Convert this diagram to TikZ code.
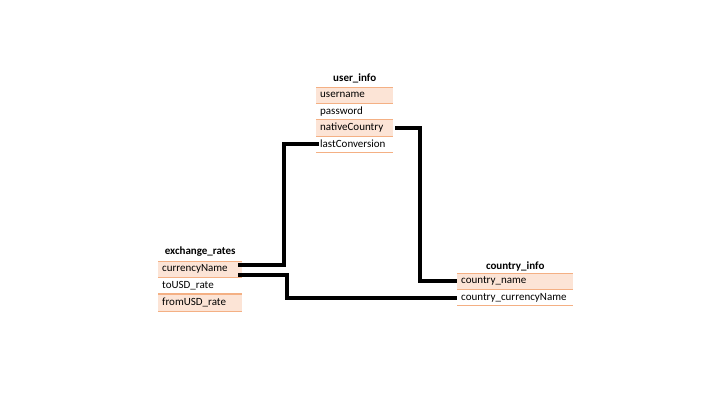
\documentclass[tikz,border=0pt]{standalone}
\usepackage{fontspec}
\setmainfont{Carlito}[Scale=1.1]
\usetikzlibrary{positioning}
\definecolor{keyfill}{HTML}{FCE4D6}
\definecolor{rowrule}{HTML}{F4B084}
\tikzset{
  tbltitle/.style={font=\bfseries, inner sep=1pt},
  field/.style={anchor=north west, text width=#1, inner xsep=4pt, inner ysep=0pt,
    minimum height=16pt, align=left, text height=8pt, text depth=2.5pt},
  keyfield/.style={field=#1, fill=keyfill},
  link/.style={line width=4pt}
}

\begin{document}
\begin{tikzpicture}[x=1pt, y=-1pt]
  \useasboundingbox (0,0) rectangle (709,403);
  % user_info
  \node[keyfield=69pt] (uname) at (316,87) {username};
  \node[field=69pt, below=0pt of uname] (pwd) {password};
  \node[keyfield=69pt, below=0pt of pwd] (native) {nativeCountry};
  \node[field=69pt, below=0pt of native] (lastconv) {lastConversion};
  \node[tbltitle, above=3pt of uname] (usertitle) {user\_info};
  % exchange_rates
  \node[keyfield=76pt] (currency) at (158,261) {currencyName};
  \node[field=76pt, below=0pt of currency] (tousd) {toUSD\_rate};
  \node[keyfield=76pt, below=1pt of tousd] (fromusd) {fromUSD\_rate};
  \node[tbltitle, above=3pt of currency] (ratetitle) {exchange\_rates};
  % country_info
  \node[keyfield=108pt] (cname) at (457,273) {country\_name};
  \node[field=108pt, below=0pt of cname] (ccurr) {country\_currencyName};
  \node[tbltitle, above=1pt of cname] (countrytitle) {country\_info};
  % row rules
  \foreach \r in {uname,pwd,native,lastconv,currency,tousd,fromusd,cname,ccurr}
    \draw[rowrule, line width=0.8pt] (\r.north west) -- (\r.north east)
      (\r.south west) -- (\r.south east);
  % links
  \draw[link] ([xshift=3pt]lastconv.west) -- ++(-35,0) |- ([xshift=-4pt,yshift=4pt]currency.east);
  \draw[link] ([xshift=-4pt,yshift=-6pt]currency.east) -- ++(49,0) |- (ccurr.west);
  \draw[link] ([xshift=2pt]native.east) -- ++(25,0) |- (cname.west);
\end{tikzpicture}
\end{document}
